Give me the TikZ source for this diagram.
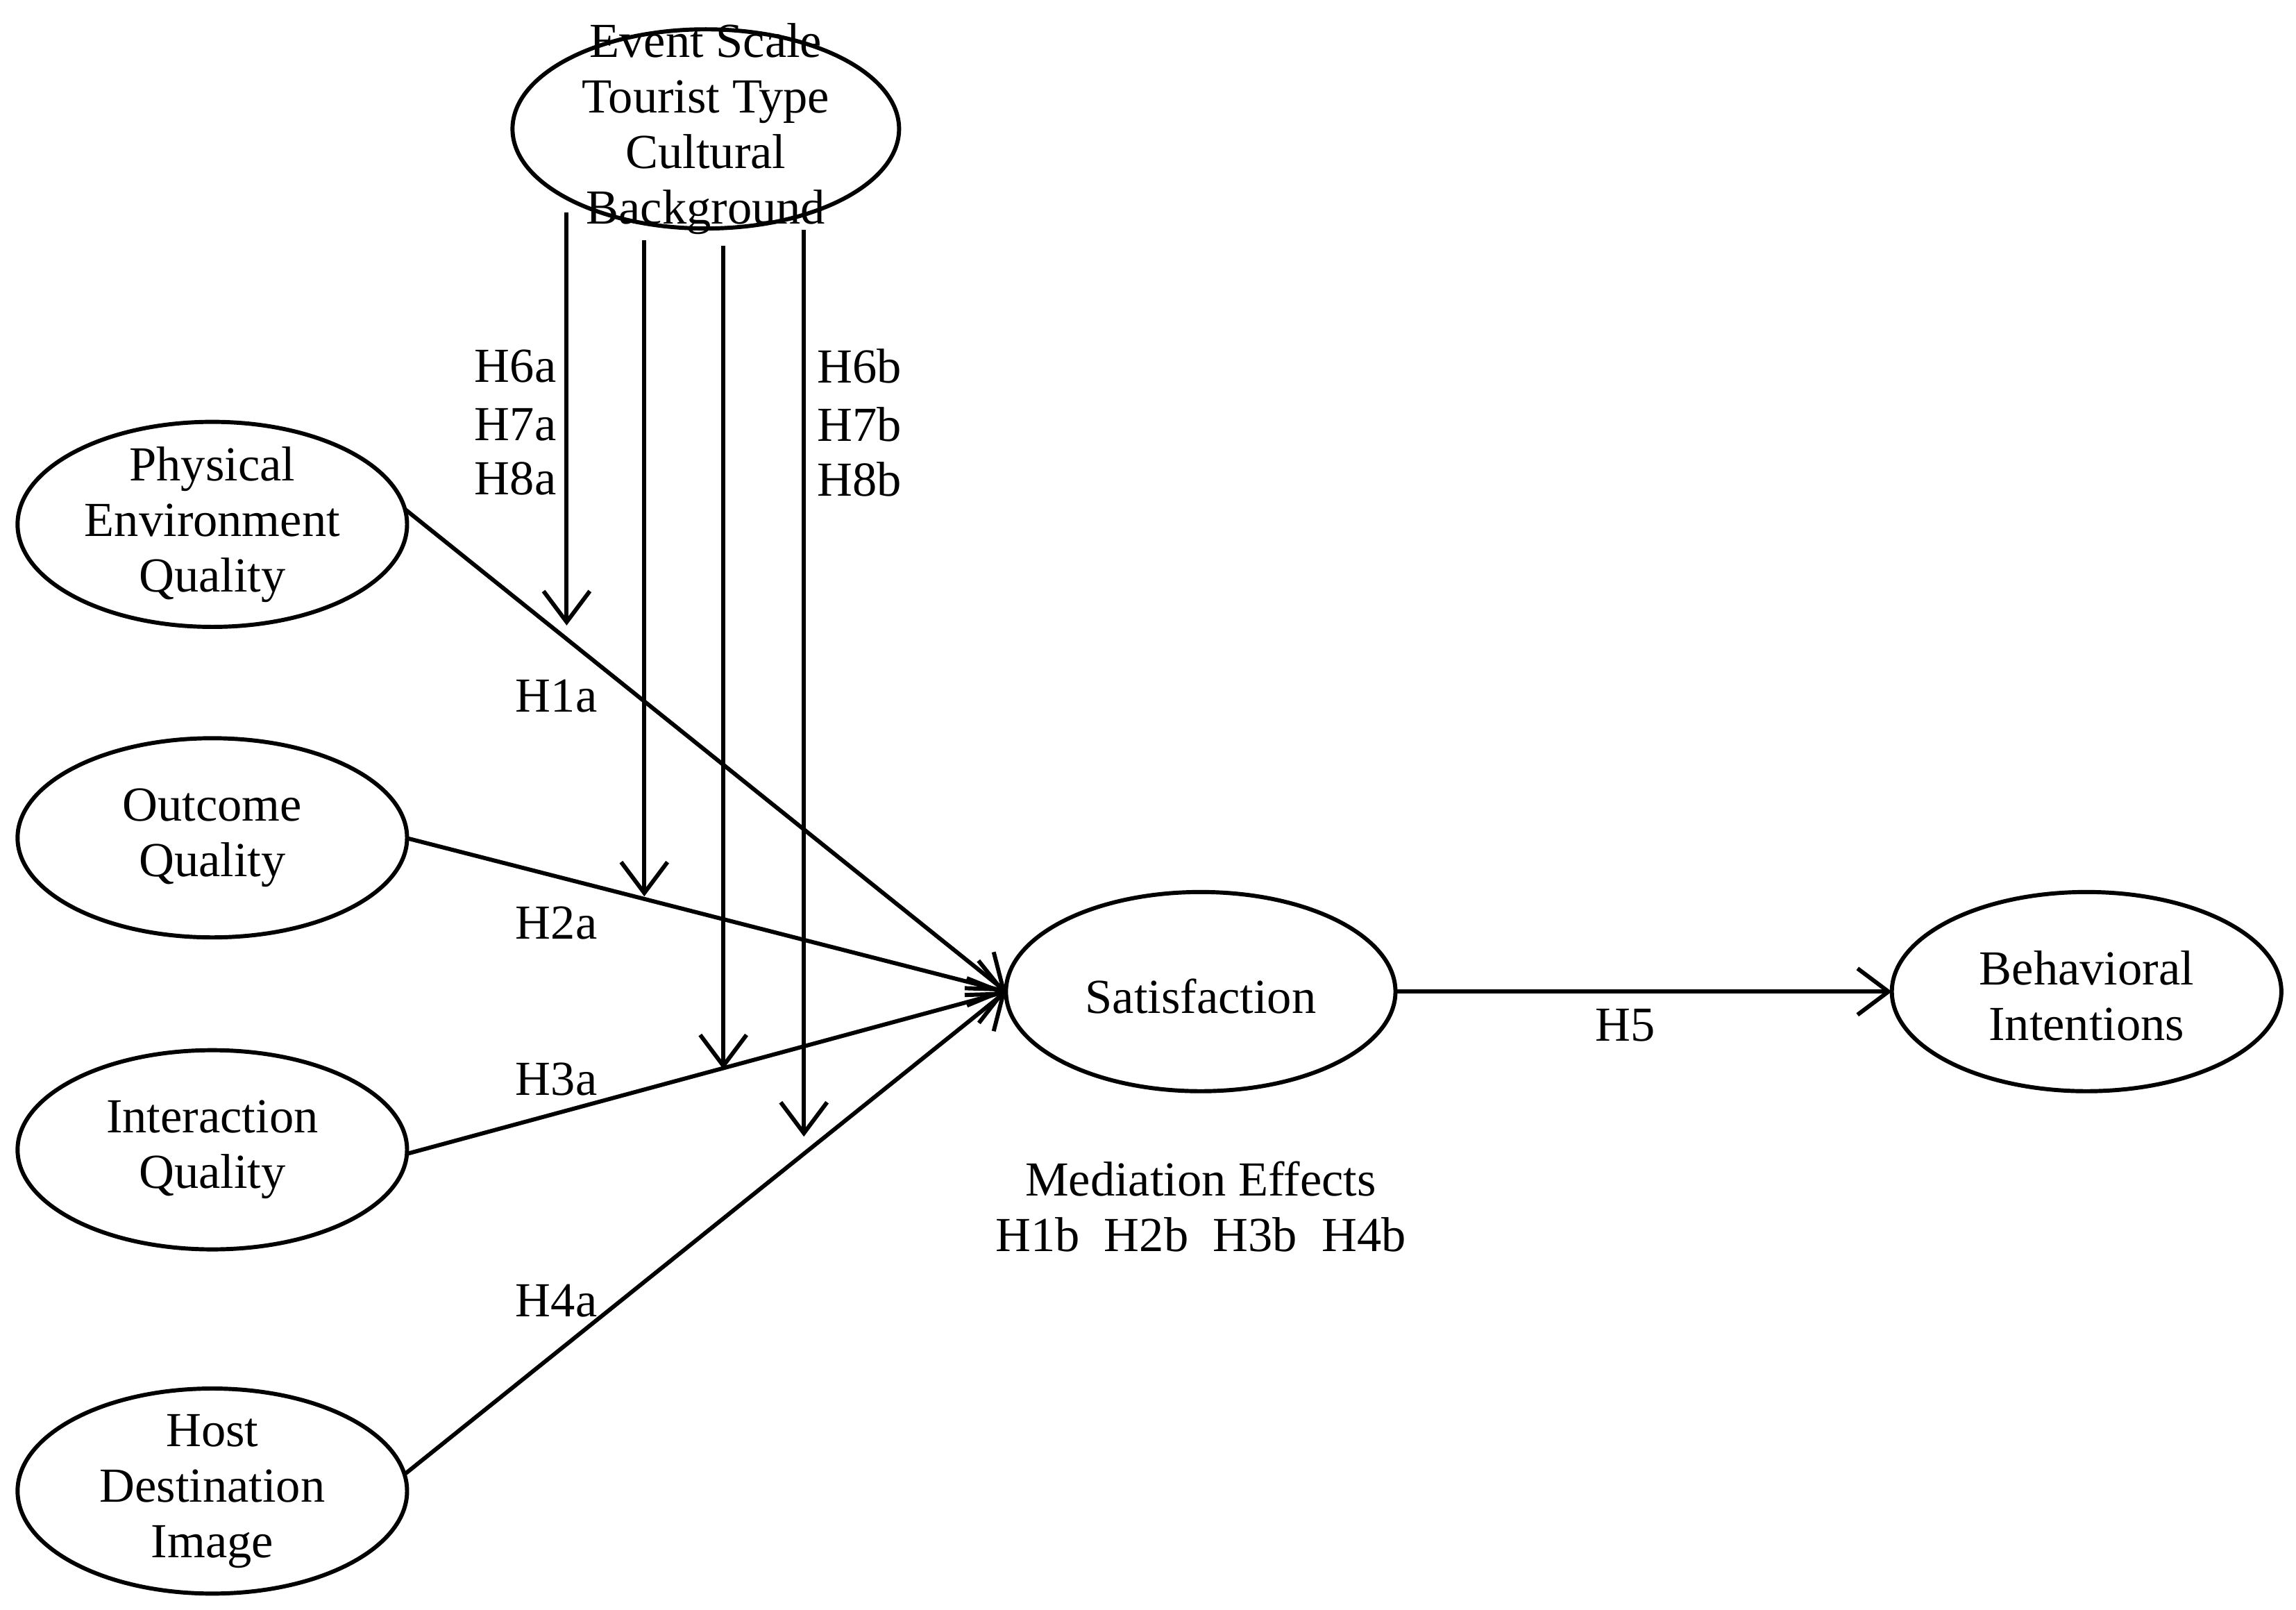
\documentclass[tikz,border=0pt]{standalone}
\usepackage{fontspec}
\setmainfont{Liberation Serif}
\usetikzlibrary{arrows.meta}
\begin{document}
\begin{tikzpicture}[x=0.01cm,y=-0.01cm,
  ell/.style={draw,line width=0.8pt,ellipse,minimum width=266\pgflinewidth,inner sep=0pt,align=center,font=\fontsize{9.5}{10.8}\selectfont},
  lab/.style={font=\fontsize{9.5}{10.8}\selectfont,align=center,inner sep=0pt},
  arr/.style={line width=0.8pt,-{Straight Barb[length=6pt,width=9pt,line width=0.8pt]}},
  ln/.style={line width=0.8pt}]
\useasboundingbox (0,0) rectangle (1568,1099);
\tikzset{every node/.append style={}}
\newcommand{\myell}[5]{\draw[line width=0.8pt] (#1,#2) ellipse [x radius=#3, y radius=#4]; \node[lab] at (#1,#2) {#5};}
\draw[ln] (482,88) ellipse [x radius=132,y radius=68];
\node[lab] (mod) at (482,88) {Event Scale\\Tourist Type\\Cultural\\Background};
\draw[ln] (145,358) ellipse [x radius=133,y radius=70];
\node[lab] (pe) at (145,358) {Physical\\Environment\\Quality};
\draw[ln] (145,572) ellipse [x radius=133,y radius=68];
\node[lab] (oq) at (145,572) {Outcome\\Quality};
\draw[ln] (145,785) ellipse [x radius=133,y radius=68];
\node[lab] (iq) at (145,785) {Interaction\\Quality};
\draw[ln] (145,1018) ellipse [x radius=133,y radius=70];
\node[lab] (hd) at (145,1018) {Host\\Destination\\Image};
\draw[ln] (820,677) ellipse [x radius=133,y radius=68];
\node[lab] (sat) at (820,680) {Satisfaction};
\draw[ln] (1425,677) ellipse [x radius=133,y radius=68];
\node[lab] (bi) at (1425,680) {Behavioral\\Intentions};
\coordinate (sw) at (687,677);
\coordinate (se) at (953,677);
\coordinate (bw) at (1292,677);
\coordinate (m1s) at (387,145); \coordinate (m1e) at (387,427);
\coordinate (m2s) at (440,164); \coordinate (m2e) at (440,612);
\coordinate (m3s) at (494,168); \coordinate (m3e) at (494,730);
\coordinate (m4s) at (549,157); \coordinate (m4e) at (549,776);
\coordinate (p1) at (277,348); \coordinate (p2) at (277,572);
\coordinate (p3) at (277,788); \coordinate (p4) at (277,1006);
\draw[arr] (m1s) -- (m1e);
\draw[arr] (m2s) -- (m2e);
\draw[arr] (m3s) -- (m3e);
\draw[arr] (m4s) -- (m4e);
\draw[arr] (p1) -- (sw);
\draw[arr] (p2) -- (sw);
\draw[arr] (p3) -- (sw);
\draw[arr] (p4) -- (sw);
\draw[arr] (se) -- (bw);
\node[lab] at (352,250) {H6a}; \node[lab] at (352,290) {H7a}; \node[lab] at (352,327) {H8a};
\node[lab] at (587,250) {H6b}; \node[lab] at (587,290) {H7b}; \node[lab] at (587,327) {H8b};
\node[lab] at (380,475) {H1a};
\node[lab] at (380,630) {H2a};
\node[lab] at (380,737) {H3a};
\node[lab] at (380,888) {H4a};
\node[lab] at (1110,700) {H5};
\node[lab] at (820,805) {Mediation Effects};
\node[lab] at (820,843) {H1b\ \ H2b\ \ H3b\ \ H4b};
\end{tikzpicture}
\end{document}
